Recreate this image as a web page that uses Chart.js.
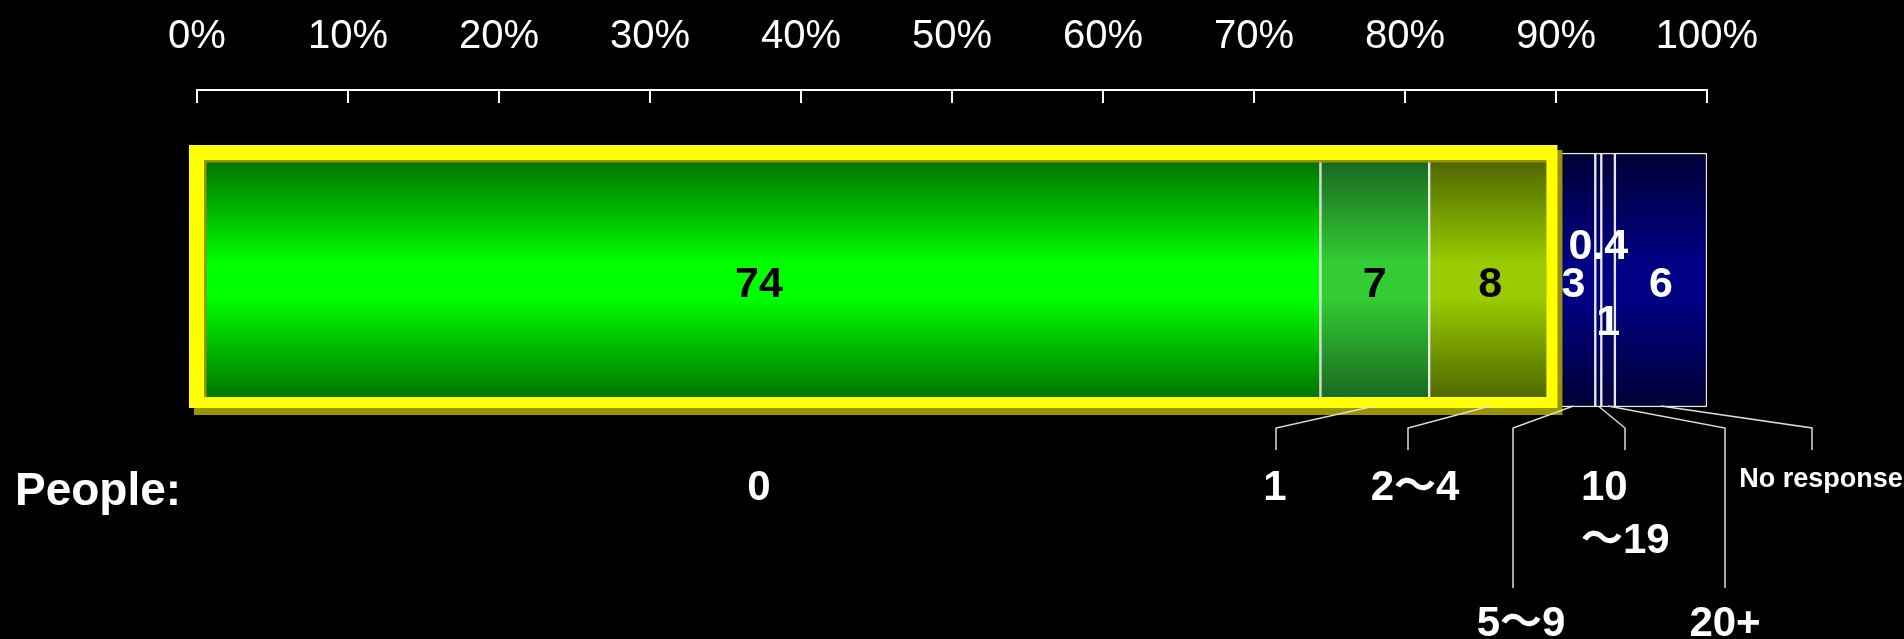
<!DOCTYPE html>
<html>
<head>
<meta charset="utf-8">
<script src="https://cdn.jsdelivr.net/npm/chart.js@4.4.1/dist/chart.umd.min.js"></script>
<style>
  html, body { margin: 0; padding: 0; background: #000; }
  #wrap { width: 1904px; height: 639px; }
</style>
</head>
<body>
<div id="wrap"><canvas id="chart" width="1904" height="639"></canvas></div>
<script>
// data
const categories = ['0', '1', '2～4', '5～9', '10～19', '20+', 'No response'];
const shares = [74.4, 7.2, 8.1, 2.9, 0.4, 0.9, 6.1];
const shareLabels = ['74', '7', '8', '3', '0.4', '1', '6'];
const tickValues = [0, 10, 20, 30, 40, 50, 60, 70, 80, 90, 100];
const rowTitle = 'People:';

const FONT = '"Liberation Sans", Arial, "Noto Sans CJK JP", sans-serif';
const BAR = 254;

// dark edge / bright middle for each segment
const palettes = [
  ['#006800', '#00ff00'],
  ['#176020', '#33cc33'],
  ['#485e00', '#99cc00'],
  ['#000036', '#000084'],
  ['#000036', '#000084'],
  ['#000036', '#000084'],
  ['#000036', '#000084']
];

function barFill(c, i) {
  const chart = c.chart;
  const y = chart.scales.y;
  if (!chart.chartArea || !y) return palettes[i][1];
  const mid = y.getPixelForValue(0);
  const g = chart.ctx.createLinearGradient(0, mid - BAR / 2, 0, mid + BAR / 2);
  g.addColorStop(0, palettes[i][0]);
  g.addColorStop(0.43, palettes[i][1]);
  g.addColorStop(0.57, palettes[i][1]);
  g.addColorStop(1, palettes[i][0]);
  return g;
}

// callouts under the bar (elbow x, end of vertical, text lines, text x, baselines, align)
const callouts = [
  null,
  { ex: 1276, ey: 450, lines: ['1'], tx: 1275, ty: [500], align: 'center' },
  { ex: 1408, ey: 450, lines: ['2～4'], tx: 1415, ty: [500], align: 'center' },
  { ex: 1513, ey: 588, lines: ['5～9'], tx: 1521, ty: [636], align: 'center' },
  { ex: 1625, ey: 450, lines: ['10', '～19'], tx: 1581, ty: [500, 553], align: 'left' },
  { ex: 1725, ey: 588, lines: ['20+'], tx: 1725, ty: [636], align: 'center' },
  { ex: 1812, ey: 450, lines: ['No response'], tx: 1821, ty: [487], align: 'center', size: 27 }
];
const labelShiftY = [0, 0, 0, 0, -38, 38, 0];

const overlay = {
  id: 'overlay',
  afterDatasetsDraw(chart) {
    const ctx = chart.ctx;
    const xs = chart.scales.x;
    const metas = shares.map((v, i) => chart.getDatasetMeta(i).data[0]);
    const top = metas[0].y - BAR / 2, bot = metas[0].y + BAR / 2;

    // yellow frame around the first three segments
    const x0 = xs.getPixelForValue(0);
    const x1 = xs.getPixelForValue(shares[0] + shares[1] + shares[2]);
    ctx.save();
    ctx.fillStyle = '#9a9400';
    ctx.beginPath();
    ctx.rect(x0 - 3, top - 3, x1 - x0 + 14, bot - top + 11);
    ctx.rect(x0 + 9.5, top + 9.5, x1 - x0 - 14.5, bot - top - 19.5);
    ctx.fill('evenodd');
    ctx.fillStyle = '#ffff00';
    ctx.beginPath();
    ctx.rect(x0 - 8, top - 8, x1 - x0 + 14, bot - top + 9);
    ctx.rect(x0 + 7, top + 7, x1 - x0 - 12, bot - top - 17);
    ctx.fill('evenodd');

    // leader lines
    ctx.strokeStyle = '#dddddd';
    ctx.lineWidth = 1.5;
    callouts.forEach((c, i) => {
      if (!c) return;
      ctx.beginPath();
      ctx.moveTo(metas[i].getCenterPoint().x, bot - 1);
      ctx.lineTo(c.ex, 428);
      ctx.lineTo(c.ex, c.ey);
      ctx.stroke();
    });

    // values in the segments
    ctx.font = 'bold 43px ' + FONT;
    ctx.textAlign = 'center';
    ctx.textBaseline = 'middle';
    metas.forEach((el, i) => {
      const p = el.getCenterPoint();
      ctx.fillStyle = i < 3 ? '#000' : '#fff';
      ctx.fillText(shareLabels[i], p.x, p.y + 5 + labelShiftY[i]);
    });

    // axis tick marks hanging under the axis line
    ctx.strokeStyle = '#ffffff';
    ctx.lineWidth = 2;
    tickValues.forEach(v => {
      const x = Math.round(xs.getPixelForValue(v));
      ctx.beginPath();
      ctx.moveTo(x, xs.bottom);
      ctx.lineTo(x, xs.bottom + 13);
      ctx.stroke();
    });

    // category texts
    ctx.fillStyle = '#fff';
    ctx.textBaseline = 'alphabetic';
    ctx.font = 'bold 46px ' + FONT;
    ctx.textAlign = 'left';
    ctx.fillText(rowTitle, 15, 505);
    ctx.font = 'bold 42px ' + FONT;
    ctx.textAlign = 'center';
    ctx.fillText(categories[0], metas[0].getCenterPoint().x, 500);
    callouts.forEach(c => {
      if (!c) return;
      ctx.font = 'bold ' + (c.size || 42) + 'px ' + FONT;
      ctx.textAlign = c.align;
      c.lines.forEach((t, k) => ctx.fillText(t, c.tx, c.ty[k]));
    });
    ctx.restore();
  }
};

new Chart(document.getElementById('chart'), {
  type: 'bar',
  data: {
    labels: [''],
    datasets: categories.map((name, i) => ({
      label: name,
      data: [shares[i]],
      backgroundColor: c => barFill(c, i),
      borderColor: '#e8e8e8',
      borderWidth: 1.5,
      borderSkipped: false,
      barThickness: BAR
    }))
  },
  options: {
    indexAxis: 'y',
    responsive: false,
    animation: false,
    layout: { padding: { left: 197, right: 197, top: 0, bottom: 169 } },
    plugins: { legend: { display: false }, tooltip: { enabled: false } },
    scales: {
      x: {
        position: 'top',
        stacked: true,
        min: 0,
        max: 100,
        afterFit: s => { s.height = 90; },
        afterBuildTicks: s => { s.ticks = tickValues.map(v => ({ value: v })); },
        ticks: {
          color: '#ffffff',
          padding: 29,
          maxRotation: 0,
          autoSkip: false,
          font: { family: FONT, size: 40 },
          callback: v => v + '%'
        },
        grid: { display: true, drawOnChartArea: false, drawTicks: false },
        border: { display: true, color: '#ffffff', width: 2 }
      },
      y: { stacked: true, display: false }
    }
  },
  plugins: [overlay]
});
</script>
</body>
</html>
